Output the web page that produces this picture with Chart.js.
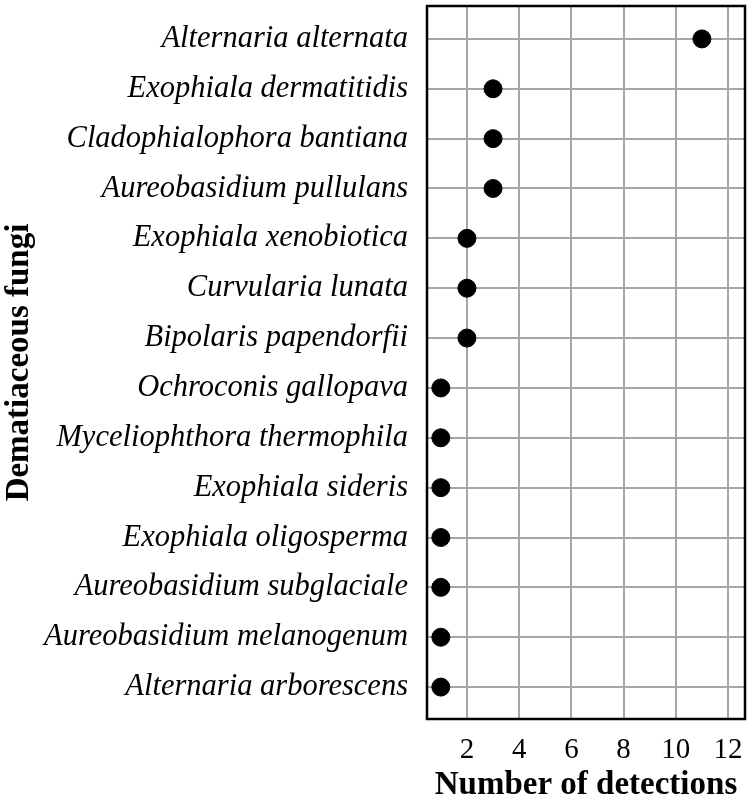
<!DOCTYPE html>
<html>
<head>
<meta charset="utf-8">
<script src="https://cdn.jsdelivr.net/npm/chart.js@4"></script>
<style>
  body { margin: 0; background: #fff; }
  #wrap { width: 750px; height: 802px; position: relative; }
</style>
</head>
<body>
<div id="wrap"><canvas id="myChart"></canvas></div>
<script>
const fungi = [
  "Alternaria alternata",
  "Exophiala dermatitidis",
  "Cladophialophora bantiana",
  "Aureobasidium pullulans",
  "Exophiala xenobiotica",
  "Curvularia lunata",
  "Bipolaris papendorfii",
  "Ochroconis gallopava",
  "Myceliophthora thermophila",
  "Exophiala sideris",
  "Exophiala oligosperma",
  "Aureobasidium subglaciale",
  "Aureobasidium melanogenum",
  "Alternaria arborescens",
];
const detections = [11, 3, 3, 3, 2, 2, 2, 1, 1, 1, 1, 1, 1, 1];
const xTicks = [2, 4, 6, 8, 10, 12];

const serif = "'Liberation Serif', 'Times New Roman', serif";

// box round the plot area
const frame = {
  id: "frame",
  afterDraw(chart) {
    const a = chart.chartArea;
    const ctx = chart.ctx;
    ctx.save();
    ctx.strokeStyle = "#000";
    ctx.lineWidth = 2.5;
    ctx.strokeRect(a.left, a.top, a.right - a.left, a.bottom - a.top);
    ctx.restore();
  },
};

const points = fungi.map((name, i) => ({ x: detections[i], y: i }));

new Chart(document.getElementById("myChart"), {
  type: "scatter",
  data: {
    datasets: [
      {
        label: "Detections",
        data: points,
        backgroundColor: "#000",
        borderColor: "#000",
        pointRadius: 9,
        pointHoverRadius: 9,
      },
    ],
  },
  options: {
    responsive: true,
    maintainAspectRatio: false,
    animation: false,
    layout: {
      autoPadding: false,
      padding: { top: 6, right: 5, left: 0, bottom: 0 },
    },
    plugins: {
      legend: { display: false },
      tooltip: { enabled: false },
    },
    scales: {
      x: {
        type: "linear",
        min: 0.47,
        max: 12.65,
        afterBuildTicks: (scale) => {
          scale.ticks = xTicks.map((v) => ({ value: v }));
        },
        afterFit: (scale) => {
          scale.height = 83;
          scale.paddingLeft = 0;
          scale.paddingRight = 0;
        },
        grid: { color: "#a6a6a6", lineWidth: 2, drawTicks: false },
        border: { display: false },
        ticks: {
          color: "#000",
          padding: 14,
          font: { family: serif, size: 29 },
          maxRotation: 0,
        },
        title: {
          display: true,
          text: "Number of detections",
          color: "#000",
          font: { family: serif, size: 33, weight: "bold", lineHeight: 1 },
          padding: { top: 0, bottom: 0 },
        },
      },
      y: {
        type: "linear",
        reverse: true,
        min: -0.66,
        max: fungi.length - 1 + 0.64,
        afterBuildTicks: (scale) => {
          scale.ticks = fungi.map((n, i) => ({ value: i }));
        },
        afterFit: (scale) => {
          scale.width = 427;
          scale.paddingTop = 0;
          scale.paddingBottom = 0;
        },
        grid: { color: "#a6a6a6", lineWidth: 2, drawTicks: false },
        border: { display: false },
        ticks: {
          color: "#000",
          padding: 19,
          font: { family: serif, size: 30.5, style: "italic" },
          callback: (v) => fungi[v],
        },
        title: {
          display: true,
          text: "Dematiaceous fungi",
          color: "#000",
          font: { family: serif, size: 33, weight: "bold" },
          padding: { top: 0, bottom: 0 },
        },
      },
    },
  },
  plugins: [frame],
});
</script>
</body>
</html>
